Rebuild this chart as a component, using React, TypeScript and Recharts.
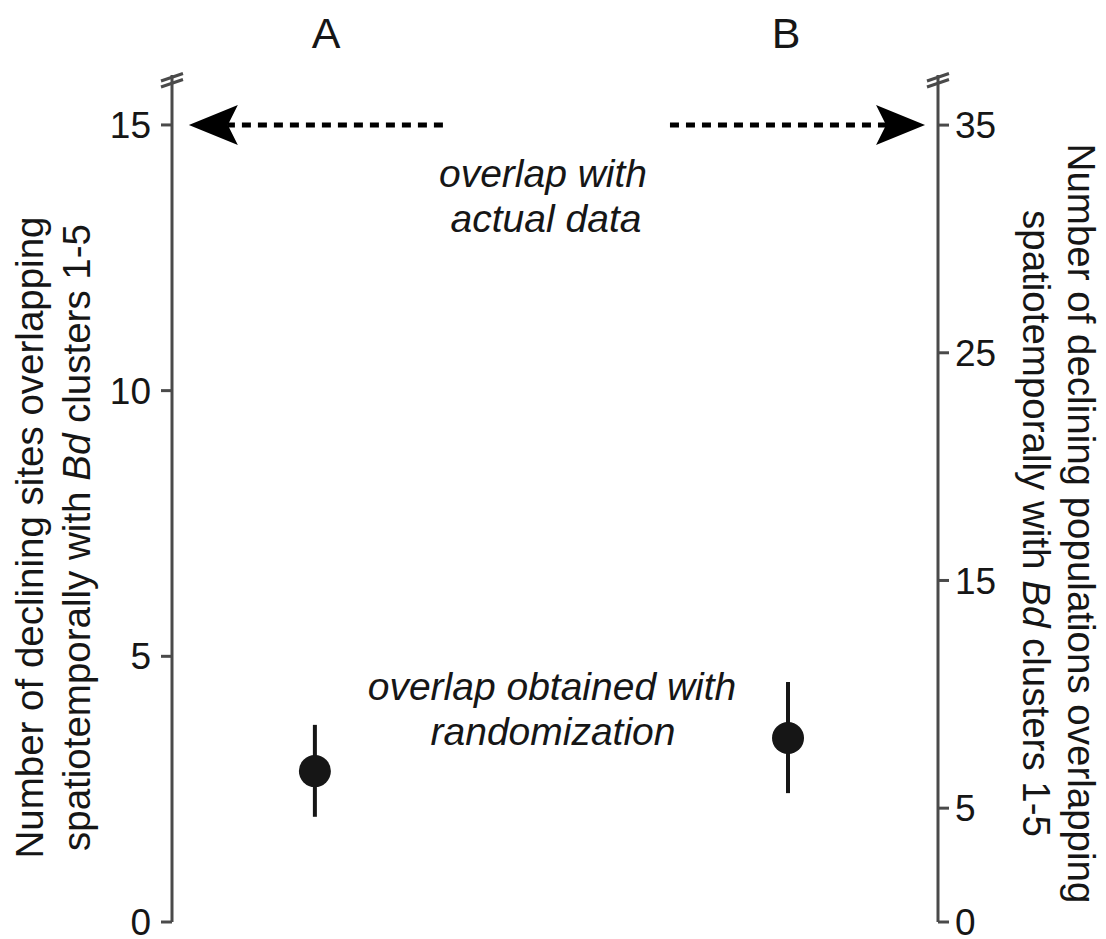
import { ComposedChart, Scatter, ErrorBar, XAxis, YAxis, ReferenceLine } from "recharts";

// values
const groups = ["A", "B"];
const groupPos = [0, 1];
const randomMean = [2.84, 8.08];
const randomLow = [1.98, 5.66];
const randomHigh = [3.71, 10.54];
const actualValues = [15, 35];
const leftTicks = [0, 5, 10, 15];
const rightTicks = [0, 5, 15, 25, 35];

const FONT = '"Liberation Sans", Arial, Helvetica, sans-serif';
const AXIS = "#4a4a4a";
const INK = "#161616";

const pointA = [
  {
    x: groupPos[0],
    y: randomMean[0],
    err: [randomMean[0] - randomLow[0], randomHigh[0] - randomMean[0]],
  },
];
const pointB = [
  {
    x: groupPos[1],
    y: randomMean[1],
    err: [randomMean[1] - randomLow[1], randomHigh[1] - randomMean[1]],
  },
];

function Dot(props: any) {
  return <circle cx={props.cx} cy={props.cy} r={16} fill={INK} />;
}

function DashedArrow(props: any) {
  const { x1, y1, x2, y2 } = props;
  const dir = Math.sign(x2 - x1);
  const back = x2 - dir * 49;
  const notch = back + dir * 10;
  return (
    <g>
      <line x1={x1} y1={y1} x2={notch} y2={y2} stroke="#000" strokeWidth={5} strokeDasharray="9 7" />
      <path
        d={`M${x2},${y2} L${back},${y2 - 20} L${notch},${y2} L${back},${y2 + 20} Z`}
        fill="#000"
      />
    </g>
  );
}

function BreakMarks({ ax, top }: { ax: number; top: number }) {
  return (
    <g stroke={AXIS} strokeWidth={3}>
      <line x1={ax - 11} y1={top + 6} x2={ax + 11} y2={top - 1.5} />
      <line x1={ax - 11} y1={top + 12} x2={ax + 11} y2={top + 4.5} />
    </g>
  );
}

function LeftLabel(props: any) {
  const { x, y, width, height } = props.viewBox;
  const cy = y + height / 2 + 39;
  return (
    <g fontFamily={FONT} fontSize={38.5} fill={INK}>
      <BreakMarks ax={x + width} top={y} />
      <text transform={`translate(${x + 43},${cy}) rotate(-90)`} textAnchor="middle">
        Number of declining sites overlapping
      </text>
      <text transform={`translate(${x + 90},${cy}) rotate(-90)`} textAnchor="middle">
        spatiotemporally with <tspan fontStyle="italic">Bd</tspan> clusters 1-5
      </text>
    </g>
  );
}

function RightLabel(props: any) {
  const { x, y, height } = props.viewBox;
  const cy = y + height / 2 + 25;
  return (
    <g fontFamily={FONT} fontSize={38.5} fill={INK}>
      <BreakMarks ax={x} top={y} />
      <text transform={`translate(${x + 130},${cy}) rotate(90)`} textAnchor="middle">
        Number of declining populations overlapping
      </text>
      <text transform={`translate(${x + 85},${cy}) rotate(90)`} textAnchor="middle">
        spatiotemporally with <tspan fontStyle="italic">Bd</tspan> clusters 1-5
      </text>
    </g>
  );
}

export default function App() {
  return (
    <div style={{ position: "absolute", left: 0, top: 0, width: 1106, height: 939, background: "#fff" }}>
      <ComposedChart
        width={1106}
        height={939}
        margin={{ top: 75, right: 0, bottom: 17, left: 0 }}
      >
        <XAxis type="number" dataKey="x" domain={[-0.302, 1.317]} allowDataOverflow hide />
        <YAxis
          yAxisId="L"
          orientation="left"
          width={172}
          domain={[0, 15.94]}
          ticks={leftTicks}
          interval={0}
          allowDataOverflow
          axisLine={{ stroke: AXIS, strokeWidth: 3 }}
          tickLine={{ stroke: AXIS, strokeWidth: 3 }}
          tickSize={11}
          tickMargin={10}
          tick={{ fontSize: 37, fill: INK, fontFamily: FONT }}
          label={{ content: LeftLabel }}
        />
        <YAxis
          yAxisId="R"
          orientation="right"
          width={168}
          domain={[0, 37.2]}
          ticks={rightTicks}
          interval={0}
          allowDataOverflow
          axisLine={{ stroke: AXIS, strokeWidth: 3 }}
          tickLine={{ stroke: AXIS, strokeWidth: 3 }}
          tickSize={11}
          tickMargin={6}
          tick={{ fontSize: 37, fill: INK, fontFamily: FONT, textAnchor: "start" }}
          label={{ content: RightLabel }}
        />
        <ReferenceLine
          yAxisId="L"
          segment={[
            { x: 0.2706, y: actualValues[0] },
            { x: -0.2664, y: actualValues[0] },
          ]}
          ifOverflow="visible"
          shape={DashedArrow}
        />
        <ReferenceLine
          yAxisId="R"
          segment={[
            { x: 0.7505, y: actualValues[1] },
            { x: 1.2896, y: actualValues[1] },
          ]}
          ifOverflow="visible"
          shape={DashedArrow}
        />
        <Scatter name={groups[0]} yAxisId="L" data={pointA} dataKey="y" shape={Dot} isAnimationActive={false}>
          <ErrorBar dataKey="err" direction="y" width={0} stroke={INK} strokeWidth={4} />
        </Scatter>
        <Scatter name={groups[1]} yAxisId="R" data={pointB} dataKey="y" shape={Dot} isAnimationActive={false}>
          <ErrorBar dataKey="err" direction="y" width={0} stroke={INK} strokeWidth={4} />
        </Scatter>
      </ComposedChart>
      <svg
        width={1106}
        height={939}
        style={{ position: "absolute", left: 0, top: 0, pointerEvents: "none" }}
        fontFamily={FONT}
        fill={INK}
      >
        <text x={326} y={48} fontSize={43} textAnchor="middle">{groups[0]}</text>
        <text x={786} y={48} fontSize={43} textAnchor="middle">{groups[1]}</text>
        <g fontSize={39} fontStyle="italic" textAnchor="middle">
          <text x={543} y={187}>overlap with</text>
          <text x={546} y={232}>actual data</text>
          <text x={552} y={700}>overlap obtained with</text>
          <text x={553} y={745}>randomization</text>
        </g>
      </svg>
    </div>
  );
}
